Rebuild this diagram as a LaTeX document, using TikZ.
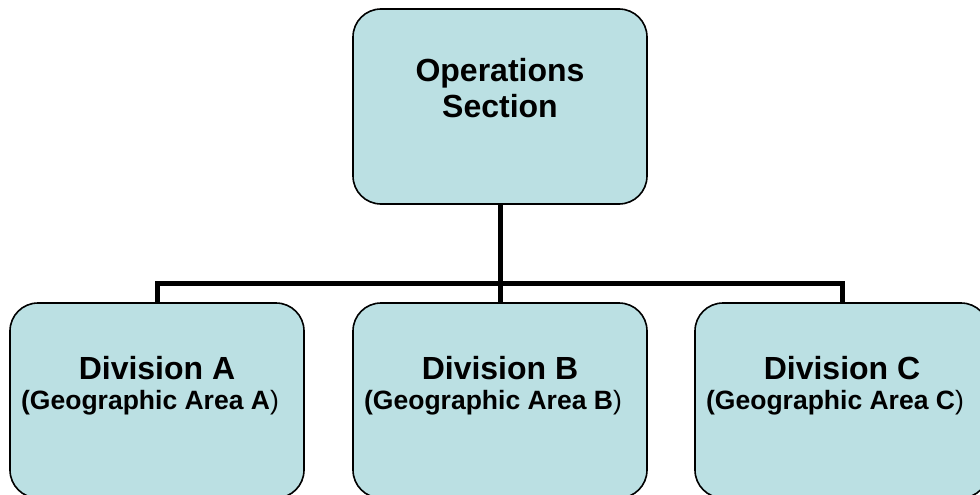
\documentclass[tikz,border=0pt]{standalone}
\usepackage{fontspec}
\setmainfont{Liberation Sans}
\definecolor{boxfill}{RGB}{187,224,227}
\begin{document}
\begin{tikzpicture}[x=1pt,y=-1pt,
  box/.style={draw=black, line width=1.6pt, fill=boxfill, rounded corners=28pt,
    minimum width=294pt, minimum height=195pt, inner sep=0pt},
  conn/.style={draw=black, line width=5pt, line join=miter},
  toptext/.style={align=center, font=\bfseries\fontsize{32}{36}\selectfont, inner sep=0pt},
  divtext/.style={align=center, font=\fontsize{26.5}{30}\selectfont, inner sep=0pt}]
\useasboundingbox (0,0) rectangle (980,495);
\node[box] (ops) at (500,106.5) {};
\node[box] (divA) at (157,400.5) {};
\node[box] (divB) at (500,400.5) {};
\node[box] (divC) at (842,400.5) {};
\coordinate (bus) at (500,283);
\draw[conn] (ops.south) -- (bus);
\draw[conn] (divA.north) |- (bus) -| (divC.north);
\draw[conn] (bus) -- (divB.north);
\node[toptext] (opsT) at (500,88) {Operations\\Section};
\node[divtext] (divAT) at (157,386) {{\bfseries\fontsize{32}{30}\selectfont Division A}\\\textbf{(Geographic Area A})\kern14pt\null};
\node[divtext] (divBT) at (500,386) {{\bfseries\fontsize{32}{30}\selectfont Division B}\\\textbf{(Geographic Area B})\kern14pt\null};
\node[divtext] (divCT) at (842,386) {{\bfseries\fontsize{32}{30}\selectfont Division C}\\\textbf{(Geographic Area C})\kern14pt\null};
\end{tikzpicture}
\end{document}
